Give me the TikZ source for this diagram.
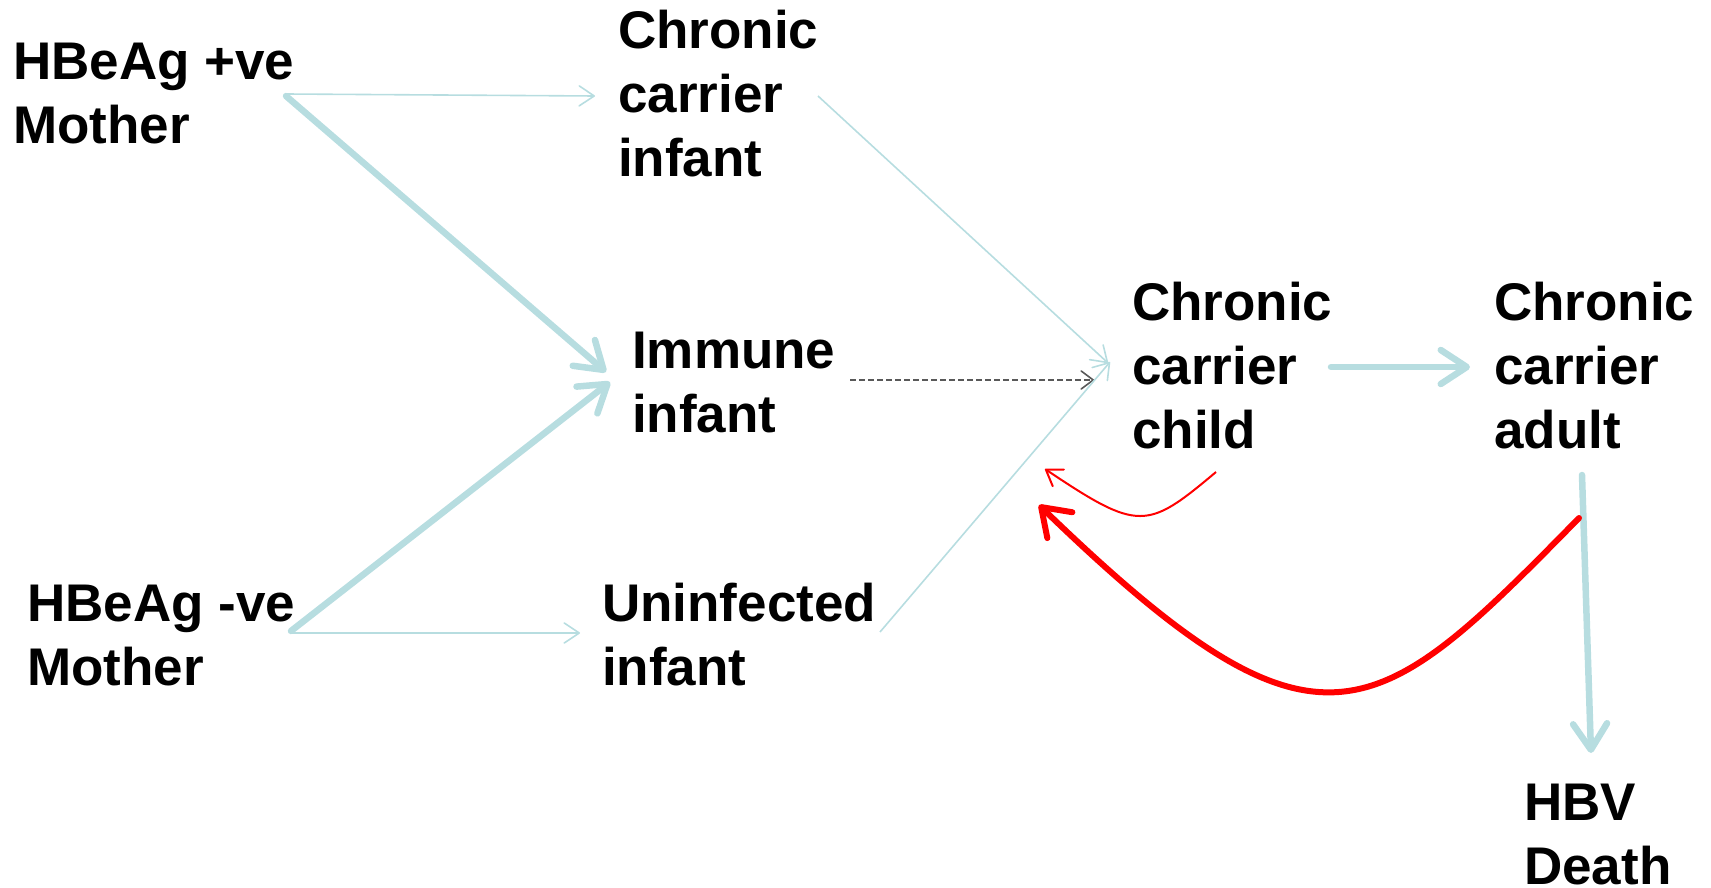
\documentclass[tikz,border=0pt]{standalone}
\usepackage{fontspec}
\setmainfont{Liberation Sans}
\usetikzlibrary{arrows.meta}
\definecolor{lblue}{RGB}{183,221,224}
\definecolor{dgray}{RGB}{89,89,89}
\definecolor{hred}{RGB}{255,0,0}
\newcommand\lbl[1]{\begin{tabular}[t]{@{}l@{}}#1\end{tabular}}
\begin{document}
\begin{tikzpicture}[x=1pt,y=-1pt,
  lab/.style={anchor=base west,inner sep=0pt,font=\fontsize{53}{64}\selectfont\bfseries},
  thinb/.style={draw=lblue,line width=1.6pt,-{Straight Barb[round,length=15pt,width=20pt]}},
  thickb/.style={draw=lblue,line width=6.5pt,line cap=round,-{Straight Barb[round,length=26pt,width=34pt]}},
  dashb/.style={draw=dgray,line width=1.6pt,dash pattern=on 6pt off 3pt,-{Straight Barb[round,length=12pt,width=18pt]}},
  redthin/.style={draw=hred,line width=2pt,-{Straight Barb[round,length=15pt,width=20pt]}},
  redthick/.style={draw=hred,line width=6pt,line cap=round,-{Straight Barb[round,length=26pt,width=36pt]}}
]
\useasboundingbox (0,0) rectangle (1711,888);

\node[lab] (hbpos) at (13,80) {\lbl{HBeAg +ve\\Mother}};
\node[lab] (cci) at (618,49) {\lbl{Chronic\\carrier\\infant}};
\node[lab] (imm) at (632,368) {\lbl{Immune\\infant}};
\node[lab] (ccc) at (1132,320) {\lbl{Chronic\\carrier\\child}};
\node[lab] (cca) at (1494,320) {\lbl{Chronic\\carrier\\adult}};
\node[lab] (hbneg) at (27,621) {\lbl{HBeAg -ve\\Mother}};
\node[lab] (uninf) at (602,621) {\lbl{Uninfected\\infant}};
\node[lab] (hbv) at (1524,820) {\lbl{HBV\\Death}};

\draw[thinb] ([shift={(273,14)}]hbpos.base west) -- ([shift={(-23,47)}]cci.base west);
\draw[thickb] ([shift={(273,16)}]hbpos.base west) -- ([shift={(-26,4)}]imm.base west);
\draw[thickb] ([shift={(264,10)}]hbneg.base west) -- ([shift={(-22,14)}]imm.base west);
\draw[thinb] ([shift={(264,12)}]hbneg.base west) -- ([shift={(-22,12)}]uninf.base west);
\draw[thinb] ([shift={(200,47)}]cci.base west) -- ([shift={(-24,43)}]ccc.base west);
\draw[dashb] ([shift={(218,12)}]imm.base west) -- ([shift={(-38,60)}]ccc.base west);
\draw[thinb] ([shift={(278,11)}]uninf.base west) -- ([shift={(-22,42)}]ccc.base west);
\draw[thickb] ([shift={(199,47)}]ccc.base west) -- ([shift={(-24,47)}]cca.base west);
\draw[thickb] ([shift={(88,155)}]cca.base west) -- ([shift={(67,-67)}]hbv.base west);
\draw[redthin] ([shift={(84,152)}]ccc.base west) .. controls (1147,530) and (1139,532) .. ([shift={(-87,149)}]ccc.base west);
\draw[redthick] ([shift={(85,198)}]cca.base west) .. controls (1375,726) and (1320,777) .. ([shift={(-93,185)}]ccc.base west);
\end{tikzpicture}
\end{document}
